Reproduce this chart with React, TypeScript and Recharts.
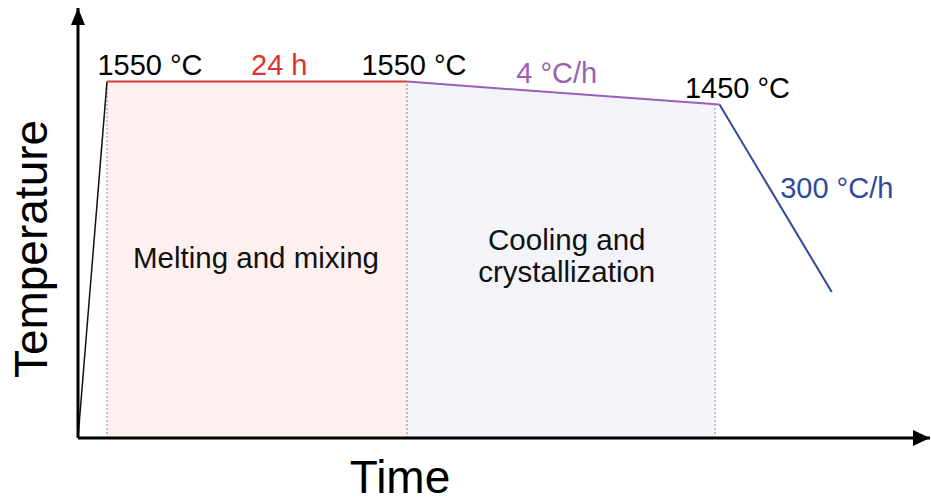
import {
  Area,
  ComposedChart,
  Line,
  ReferenceDot,
  ReferenceLine,
  XAxis,
  YAxis,
} from "recharts";

// time in hours, temperature in °C (schematic profile)
const rampTime = [0, 2.32];
const rampTemp = [0, 1550];
const holdTime = [2.32, 26.32];
const holdTemp = [1550, 1550];
const coolTime = [26.32, 51.32];
const coolTemp = [1550, 1450];
const quenchTime = [51.32, 60.3];
const quenchTemp = [1450, 635];
const meltFillTime = [2.32, 26.32];
const meltFillTemp = [1550, 1550];
const crystFillTime = [26.32, 50.96];
const crystFillTemp = [1550, 1451.4];
const stageMarks = [2.32, 26.32, 50.96];
const stageTops = [1550, 1550, 1451.4];

const X_MAX = 68.16;
const Y_MAX = 1870;

const toRows = (t: number[], T: number[]) => t.map((v, i) => ({ t: v, T: T[i] }));

const FONT = '"Liberation Sans", Arial, sans-serif';

function textShape(text: string, color: string, dx = 0, dy = 0, size = 29) {
  return (p: any) => (
    <text
      x={p.cx + dx}
      y={p.cy + dy}
      textAnchor="middle"
      fill={color}
      fontSize={size}
      fontFamily={FONT}
    >
      {text}
    </text>
  );
}

const upArrow = (p: any) => (
  <polygon points={`${p.cx},${p.cy} ${p.cx - 7},${p.cy + 17} ${p.cx + 7},${p.cy + 17}`} fill="#000" />
);
const rightArrow = (p: any) => (
  <polygon points={`${p.cx},${p.cy} ${p.cx - 17},${p.cy - 8} ${p.cx - 17},${p.cy + 8}`} fill="#000" />
);

export default function App() {
  return (
    <div style={{ position: "absolute", left: 0, top: 0, background: "#fff" }}>
      <ComposedChart
        width={931}
        height={504}
        margin={{ top: 8, right: 1, bottom: 0, left: 0 }}
      >
        <XAxis
          type="number"
          dataKey="t"
          domain={[0, X_MAX]}
          allowDataOverflow
          height={66}
          tick={false}
          tickLine={false}
          axisLine={{ stroke: "#000", strokeWidth: 3 }}
          label={{
            content: () => (
              <text x={400} y={493} textAnchor="middle" fontSize={46} fontFamily={FONT} fill="#000">
                Time
              </text>
            ),
          }}
        />
        <YAxis
          type="number"
          dataKey="T"
          domain={[0, Y_MAX]}
          allowDataOverflow
          width={78}
          tick={false}
          tickLine={false}
          axisLine={{ stroke: "#000", strokeWidth: 3 }}
          label={{
            content: () => (
              <text
                x={47}
                y={249}
                transform="rotate(-90 47 249)"
                textAnchor="middle"
                fontSize={46}
                fontFamily={FONT}
                fill="#000"
              >
                Temperature
              </text>
            ),
          }}
        />

        <Area
          data={toRows(meltFillTime, meltFillTemp)}
          dataKey="T"
          type="linear"
          stroke="none"
          fill="#fdf0ee"
          fillOpacity={1}
          isAnimationActive={false}
        />
        <Area
          data={toRows(crystFillTime, crystFillTemp)}
          dataKey="T"
          type="linear"
          stroke="none"
          fill="#f3f3fa"
          fillOpacity={1}
          isAnimationActive={false}
        />

        {stageMarks.map((x, i) => (
          <ReferenceLine
            key={i}
            segment={[
              { x, y: 0 },
              { x, y: stageTops[i] },
            ]}
            stroke="#8a8a8a"
            strokeDasharray="2 2"
            strokeWidth={1}
            ifOverflow="visible"
          />
        ))}

        <Line
          data={toRows(rampTime, rampTemp)}
          dataKey="T"
          type="linear"
          stroke="#111"
          strokeWidth={1.5}
          dot={false}
          isAnimationActive={false}
        />
        <Line
          data={toRows(holdTime, holdTemp)}
          dataKey="T"
          type="linear"
          stroke="#d63a3a"
          strokeWidth={2}
          dot={false}
          isAnimationActive={false}
        />
        <Line
          data={toRows(coolTime, coolTemp)}
          dataKey="T"
          type="linear"
          stroke="#9b5fb5"
          strokeWidth={2}
          dot={false}
          isAnimationActive={false}
        />
        <Line
          data={toRows(quenchTime, quenchTemp)}
          dataKey="T"
          type="linear"
          stroke="#2f4a9c"
          strokeWidth={2}
          dot={false}
          isAnimationActive={false}
        />

        <ReferenceDot x={0} y={Y_MAX} ifOverflow="visible" shape={upArrow} />
        <ReferenceDot x={X_MAX} y={0} ifOverflow="visible" shape={rightArrow} />

        <ReferenceDot x={2.32} y={1550} ifOverflow="visible" shape={textShape("1550 °C", "#000", 43, -7)} />
        <ReferenceDot x={16.1} y={1550} ifOverflow="visible" shape={textShape("24 h", "#e03131", 0, -7)} />
        <ReferenceDot x={26.32} y={1550} ifOverflow="visible" shape={textShape("1550 °C", "#000", 7, -7)} />
        <ReferenceDot x={38.3} y={1502} ifOverflow="visible" shape={textShape("4 °C/h", "#9b5fb5", 0, -10)} />
        <ReferenceDot x={51.32} y={1450} ifOverflow="visible" shape={textShape("1450 °C", "#000", 18, -7)} />
        <ReferenceDot x={60.7} y={1043} ifOverflow="visible" shape={textShape("300 °C/h", "#2f4a9c")} />
        <ReferenceDot x={14.24} y={739} ifOverflow="visible" shape={textShape("Melting and mixing", "#111", 0, 0, 29.5)} />
        <ReferenceDot x={39.1} y={817} ifOverflow="visible" shape={textShape("Cooling and", "#111", 0, 0, 29.5)} />
        <ReferenceDot x={39.1} y={678} ifOverflow="visible" shape={textShape("crystallization", "#111", 0, 0, 29.5)} />
      </ComposedChart>
    </div>
  );
}
